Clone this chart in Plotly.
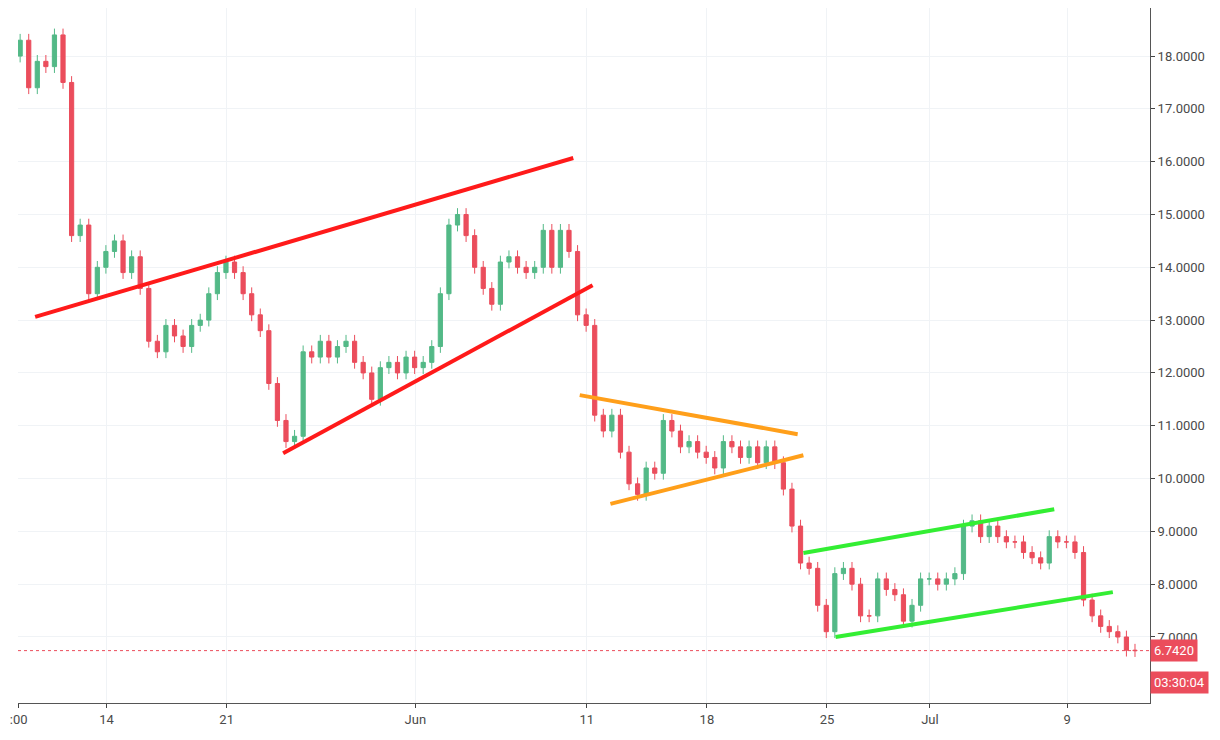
import plotly.graph_objects as go
import pandas as pd

# 12h candles, closes
closes = [18.3, 17.4, 17.9, 17.8, 18.4, 17.5, 14.6, 14.8, 13.5, 14.0,
          14.3, 14.5, 13.9, 14.2, 13.6, 12.6, 12.4, 12.9, 12.7, 12.5,
          12.9, 13.0, 13.5, 13.9, 14.1, 13.9, 13.5, 13.1, 12.8, 11.8,
          11.1, 10.7, 10.8, 12.4, 12.3, 12.6, 12.3, 12.5, 12.6, 12.2,
          12.0, 11.5, 12.1, 12.2, 12.0, 12.3, 12.1, 12.2, 12.5, 13.5,
          14.8, 15.0, 14.6, 14.0, 13.6, 13.3, 14.1, 14.2, 14.0, 13.9,
          14.0, 14.7, 14.0, 14.7, 14.3, 13.1, 12.9, 11.2, 10.9, 11.2,
          10.5, 9.9, 9.7, 10.2, 10.1, 11.1, 10.9, 10.6, 10.7, 10.5,
          10.4, 10.2, 10.7, 10.6, 10.4, 10.6, 10.3, 10.6, 10.3, 9.8,
          9.1, 8.4, 8.3, 7.6, 7.1, 8.2, 8.3, 8.0, 7.4, 7.4,
          8.1, 7.9, 7.8, 7.3, 7.6, 8.1, 8.1, 8.0, 8.1, 8.2,
          9.1, 9.2, 8.9, 9.1, 8.9, 8.8, 8.8, 8.6, 8.5, 8.4,
          8.9, 8.8, 8.8, 8.6, 7.7, 7.4, 7.2, 7.1, 7.0, 6.75, 6.742]
first_open = 18.0
last_price = 6.742

dates = pd.date_range("2018-05-08 23:00", periods=len(closes), freq="12h")
opens = [first_open] + closes[:-1]
highs = [max(o, c) + 0.12 for o, c in zip(opens, closes)]
lows = [min(o, c) - 0.12 for o, c in zip(opens, closes)]

# trend lines: (start date, start price, end date, end price, colour)
trend_lines = [
    ("2018-05-09 20:00", 13.06, "2018-06-10 05:00", 16.07, "#ff1a1a"),
    ("2018-05-24 07:00", 10.48, "2018-06-11 08:00", 13.66, "#ff1a1a"),
    ("2018-06-10 14:00", 11.58, "2018-06-23 07:00", 10.84, "#ff9f1a"),
    ("2018-06-12 09:00", 9.52, "2018-06-23 15:00", 10.44, "#ff9f1a"),
    ("2018-06-23 15:00", 8.59, "2018-07-08 06:00", 9.42, "#33ee33"),
    ("2018-06-25 12:00", 7.00, "2018-07-11 16:00", 7.85, "#33ee33"),
]

tick_vals = ["2018-05-08 21:00", "2018-05-14", "2018-05-21", "2018-06-01",
             "2018-06-11", "2018-06-18", "2018-06-25", "2018-07-01", "2018-07-09"]
tick_text = [":00", "14", "21", "Jun", "11", "18", "25", "Jul", "9"]
y_ticks = list(range(7, 19))

fig = go.Figure(go.Candlestick(
    x=dates, open=opens, high=highs, low=lows, close=closes,
    increasing=dict(line=dict(color="#53b987", width=1), fillcolor="#53b987"),
    decreasing=dict(line=dict(color="#eb4d5c", width=1), fillcolor="#eb4d5c"),
    showlegend=False, whiskerwidth=0,
))

for x0, y0, x1, y1, col in trend_lines:
    fig.add_shape(type="line", x0=x0, y0=y0, x1=x1, y1=y1,
                  line=dict(color=col, width=4))

fig.add_hline(y=last_price, line=dict(color="#eb4d5c", width=1, dash="dot"))
fig.add_annotation(xref="paper", x=1.0, xanchor="left", y=last_price, yanchor="middle",
                   text="6.7420", showarrow=False, bgcolor="#eb4d5c",
                   font=dict(color="white", size=13, family="Roboto"), borderpad=3)
fig.add_annotation(xref="paper", x=1.0, xanchor="left", y=last_price - 0.6, yanchor="middle",
                   text="03:30:04", showarrow=False, bgcolor="#eb4d5c",
                   font=dict(color="white", size=13, family="Roboto"), borderpad=3)

fig.update_layout(
    width=1220, height=740, plot_bgcolor="white", paper_bgcolor="white",
    margin=dict(l=10, r=78, t=0, b=45),
    font=dict(family="Roboto", size=13, color="#4a4a4a"),
    xaxis=dict(range=["2018-05-08 20:00", "2018-07-13 20:00"], rangeslider=dict(visible=False),
               tickvals=tick_vals, ticktext=tick_text, showgrid=True, gridcolor="#f0f3f6",
               showline=True, linecolor="#555", ticks="outside", ticklen=4),
    yaxis=dict(side="right", range=[5.75, 18.91], tickvals=y_ticks,
               ticktext=[f"{v:.4f}" for v in y_ticks], gridcolor="#f0f3f6",
               showline=True, linecolor="#555", ticks="outside", ticklen=4, zeroline=False),
)

fig.write_html("out.html")
